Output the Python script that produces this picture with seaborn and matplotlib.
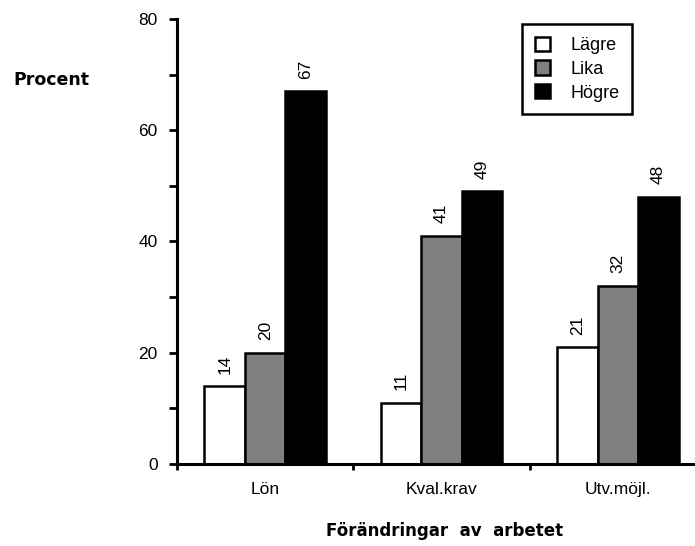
import pandas as pd
import matplotlib
matplotlib.use('Agg')
import matplotlib.pyplot as plt
from matplotlib.ticker import MultipleLocator, FixedLocator
import seaborn as sns

# Data
omraden = ['Lön', 'Kval.krav', 'Utv.möjl.']
svar = ['Lägre', 'Lika', 'Högre']
lagre = [14, 11, 21]
lika = [20, 41, 32]
hogre = [67, 49, 48]
farger = ['white', '#808080', 'black']

df = pd.DataFrame({
    'Område': omraden * 3,
    'Svar': [s for s in svar for _ in omraden],
    'Procent': lagre + lika + hogre,
})

sns.set_style('ticks')
plt.rcParams['font.family'] = ['Liberation Sans', 'DejaVu Sans']
plt.rcParams.update({'text.color': 'black', 'axes.labelcolor': 'black',
                     'xtick.color': 'black', 'ytick.color': 'black',
                     'axes.edgecolor': 'black'})

fig = plt.figure(figsize=(6.95, 5.46), dpi=100)
ax = fig.add_axes([0.2547, 0.1502, 0.7612, 0.8150])

sns.barplot(data=df, x='Område', y='Procent', hue='Svar', hue_order=svar,
            order=omraden, palette=farger, saturation=1, edgecolor='black',
            linewidth=1.8, width=0.69, ax=ax)

# Etiketter ovanför staplarna
for c in ax.containers:
    ax.bar_label(c, padding=9, rotation=90, fontsize=12.5)

ax.set_ylim(0, 80)
ax.set_xlim(-0.5, 2.5)
ax.yaxis.set_major_locator(MultipleLocator(20))
ax.yaxis.set_minor_locator(MultipleLocator(10))
ax.xaxis.set_minor_locator(FixedLocator([-0.5, 0.5, 1.5, 2.5]))

ax.tick_params(axis='y', which='both', direction='out', length=6, width=2,
               labelsize=12.5, pad=8)
ax.tick_params(axis='x', which='major', length=0, labelsize=12.5, pad=13)
ax.tick_params(axis='x', which='minor', direction='out', length=4, width=2)

sns.despine(ax=ax)
for s in ['left', 'bottom']:
    ax.spines[s].set_linewidth(2.2)

ax.set_ylabel('Procent', rotation=0, ha='center', va='center',
              fontsize=12.5, fontweight='bold', family=['DejaVu Sans'])
ax.yaxis.set_label_coords(-0.237, 0.862)
ax.set_xlabel('Förändringar  av  arbetet', va='center', fontsize=12,
              fontweight='bold', family=['DejaVu Sans'])
ax.xaxis.set_label_coords(0.506, -0.1506)

leg = ax.legend(loc='upper right', bbox_to_anchor=(0.860, 0.989),
                borderaxespad=0, frameon=True, fancybox=False,
                edgecolor='black', framealpha=1, fontsize=13,
                handlelength=0.85, handleheight=0.85, handletextpad=1.1,
                borderpad=0.7, labelspacing=0.35, title=None)
leg.get_frame().set_linewidth(1.8)

fig.savefig('out.png', dpi=100)
